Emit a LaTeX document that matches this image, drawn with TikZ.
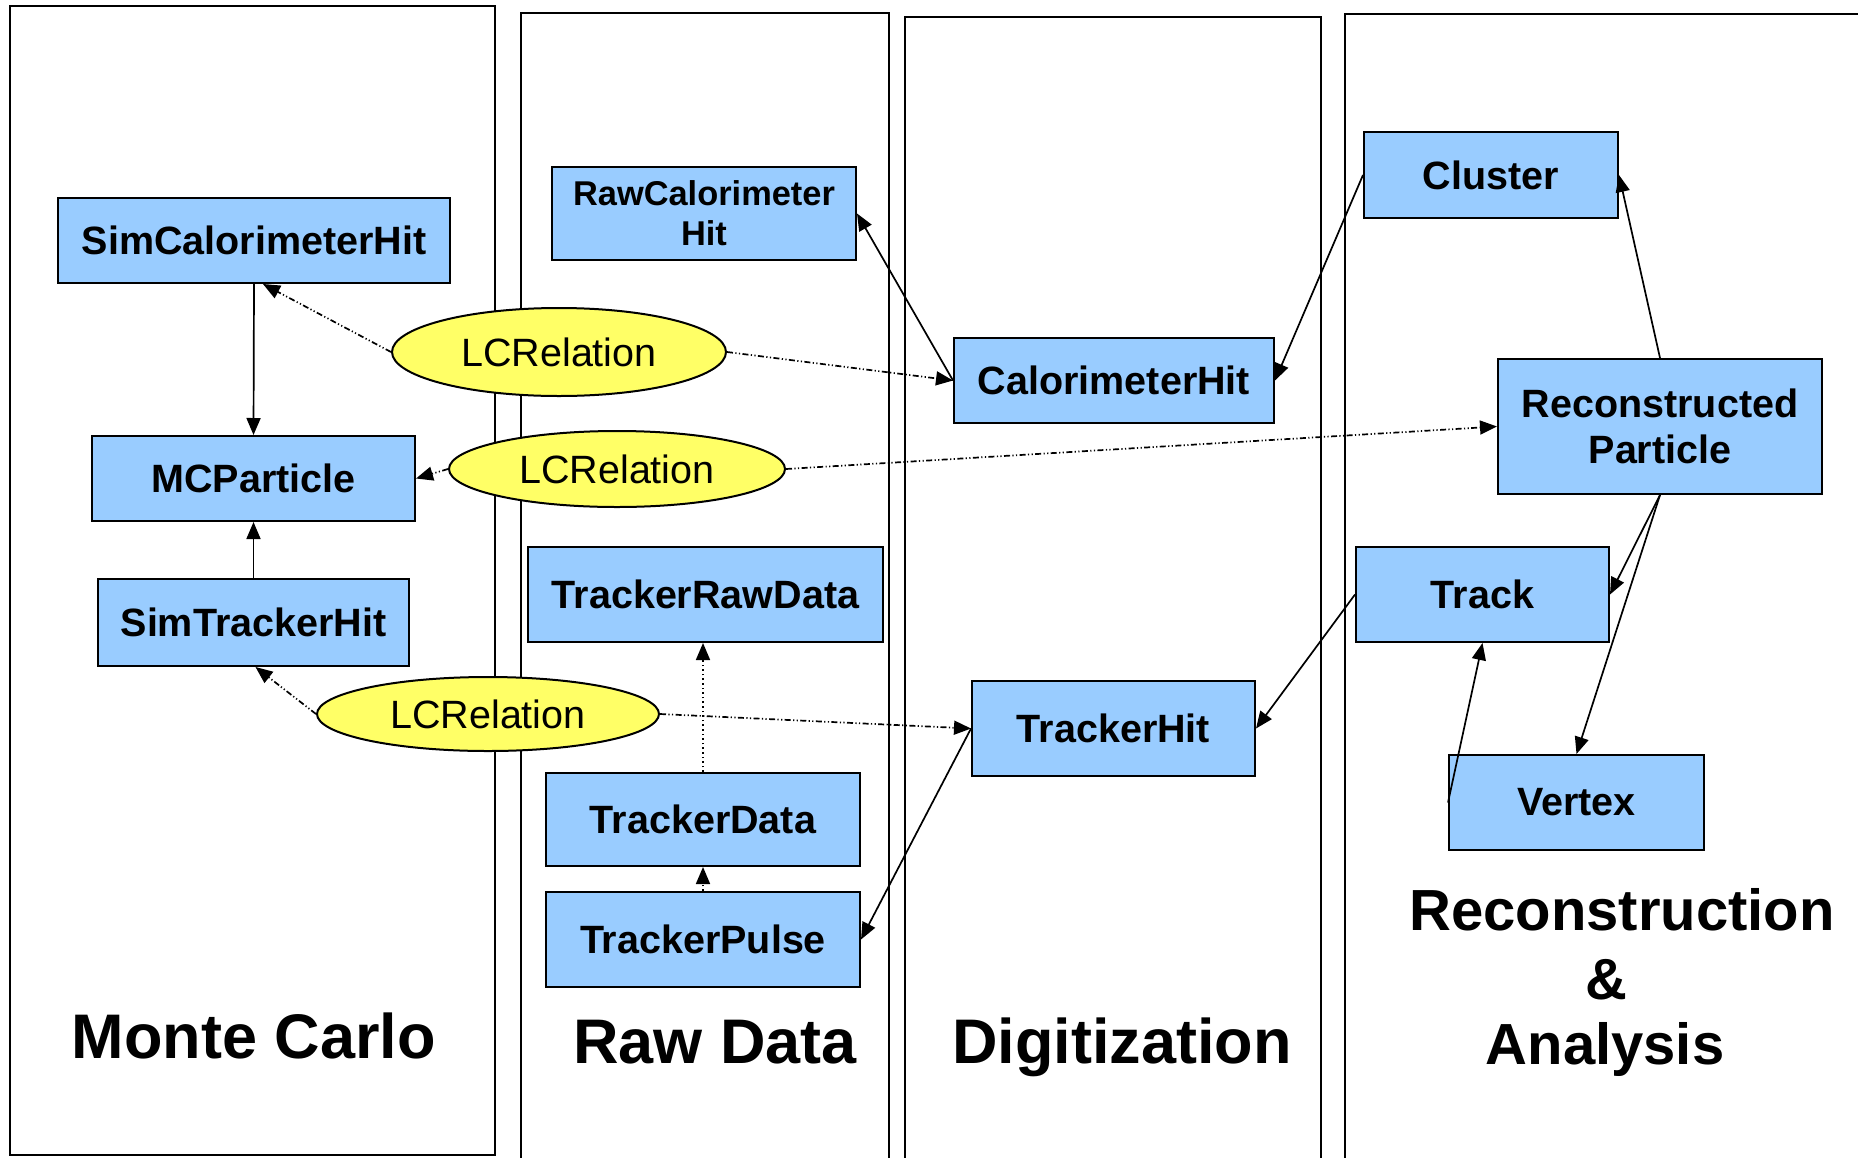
\documentclass[tikz,border=0pt]{standalone}
\usepackage{fontspec}
\setmainfont{Liberation Sans}
\usetikzlibrary{arrows.meta,calc,shapes.geometric}
\definecolor{boxblue}{HTML}{99CCFF}
\definecolor{relyellow}{HTML}{FFFF66}
\begin{document}
\begin{tikzpicture}[x=0.5pt,y=-0.5pt,
  box/.style={draw=black,line width=1pt,fill=boxblue,inner sep=0pt,align=center,
    font=\fontsize{19.75}{23}\selectfont\bfseries},
  rel/.style={ellipse,draw=black,line width=1pt,fill=relyellow,inner sep=0pt,
    font=\fontsize{19.75}{23}\selectfont},
  panel/.style={draw=black,line width=1.2pt},
  title/.style={anchor=base,font=\fontsize{31.5}{36}\selectfont\bfseries},
  rtitle/.style={anchor=base,font=\fontsize{29}{34}\selectfont\bfseries},
  conn/.style={line width=0.85pt,-{Triangle[length=8.5pt,width=7pt]}},
  rellink/.style={conn,dash pattern=on 3pt off 1.2pt on 0.6pt off 1.2pt on 0.6pt off 1.2pt},
  dotlink/.style={conn,dash pattern=on 0.8pt off 1.5pt}]
\useasboundingbox (0,0) rectangle (1858,1157);

% panels
\draw[panel] (10,6) rectangle (495,1155);
\draw[panel] (521,1162) -- (521,13) -- (889,13) -- (889,1162);
\draw[panel] (905,1162) -- (905,17) -- (1321,17) -- (1321,1162);
\draw[panel] (1345,1162) -- (1345,14) -- (1862,14);

% nodes
\node[box,minimum width=196pt,minimum height=42.5pt] (simcal) at (254,240.5) {SimCalorimeterHit};
\node[box,minimum width=161.5pt,minimum height=42.5pt] (mcp) at (253.5,478.5) {MCParticle};
\node[box,minimum width=155.5pt,minimum height=43.5pt] (simtrk) at (253.5,622.5) {SimTrackerHit};
\node[box,minimum width=152pt,minimum height=46.5pt,font=\fontsize{17.2}{20}\selectfont\bfseries] (rawcal) at (704,213.5) {RawCalorimeter\\Hit};
\node[box,minimum width=177.5pt,minimum height=47.5pt] (trkraw) at (705.5,594.5) {TrackerRawData};
\node[box,minimum width=157pt,minimum height=46.5pt] (trkdata) at (703,819.5) {TrackerData};
\node[box,minimum width=157pt,minimum height=47.5pt] (trkpulse) at (703,939.5) {TrackerPulse};
\node[box,minimum width=160pt,minimum height=42.5pt] (calhit) at (1114,380.5) {CalorimeterHit};
\node[box,minimum width=141.5pt,minimum height=47.5pt] (trkhit) at (1113.5,728.5) {TrackerHit};
\node[box,minimum width=127pt,minimum height=43pt] (cluster) at (1491,175) {Cluster};
\node[box,minimum width=162pt,minimum height=67.5pt] (recpart) at (1660,426.5) {Reconstructed\\Particle};
\node[box,minimum width=126.5pt,minimum height=47.5pt] (track) at (1482.5,594.5) {Track};
\node[box,minimum width=127.5pt,minimum height=47.5pt] (vertex) at (1576.5,802.5) {Vertex};

\node[rel,minimum width=167pt,minimum height=44pt] (lc1) at (559,352) {LCRelation};
\node[rel,minimum width=168pt,minimum height=38pt] (lc2) at (617,469) {LCRelation};
\node[rel,minimum width=171pt,minimum height=37pt] (lc3) at (488,714) {LCRelation};

% titles
\node[title] (tmc) at (254,1058) {Monte Carlo};
\node[title] (trd) at (715,1063) {Raw Data};
\node[title] (tdg) at (1122,1063) {Digitization};
\node[rtitle] (trec) at (1622,930) {Reconstruction};
\node[rtitle] (tamp) at (1606,999) {\&};
\node[rtitle] (tana) at (1605,1064) {Analysis};

% connectors
\draw[conn] (simcal.south) -- (mcp.north);
\draw[conn] (simtrk.north) -- (mcp.south);
\draw[rellink] (lc1.west) -- ($(simcal.south)+(9,0)$);
\draw[rellink] (lc1.east) -- (calhit.west);
\draw[rellink] (lc2.west) -- (mcp.east);
\draw[rellink] (lc2.east) -- (recpart.west);
\draw[rellink] (lc3.west) -- ($(simtrk.south)+(2,0)$);
\draw[rellink] (lc3.east) -- (trkhit.west);
\draw[dotlink] (trkdata.north) -- (trkdata.north |- trkraw.south);
\draw[dotlink] (trkpulse.north) -- (trkdata.south);
\draw[conn] (calhit.west) -- (rawcal.east);
\draw[conn] (cluster.west) -- (calhit.east);
\draw[conn] (track.west) -- (trkhit.east);
\draw[conn] (trkhit.west) -- (trkpulse.east);
\draw[conn] (recpart.north) -- (cluster.east);
\draw[conn] (recpart.south) -- (track.east);
\draw[conn] (recpart.south) -- (vertex.north);
\draw[conn] (vertex.west) -- (track.south);
\end{tikzpicture}
\end{document}
